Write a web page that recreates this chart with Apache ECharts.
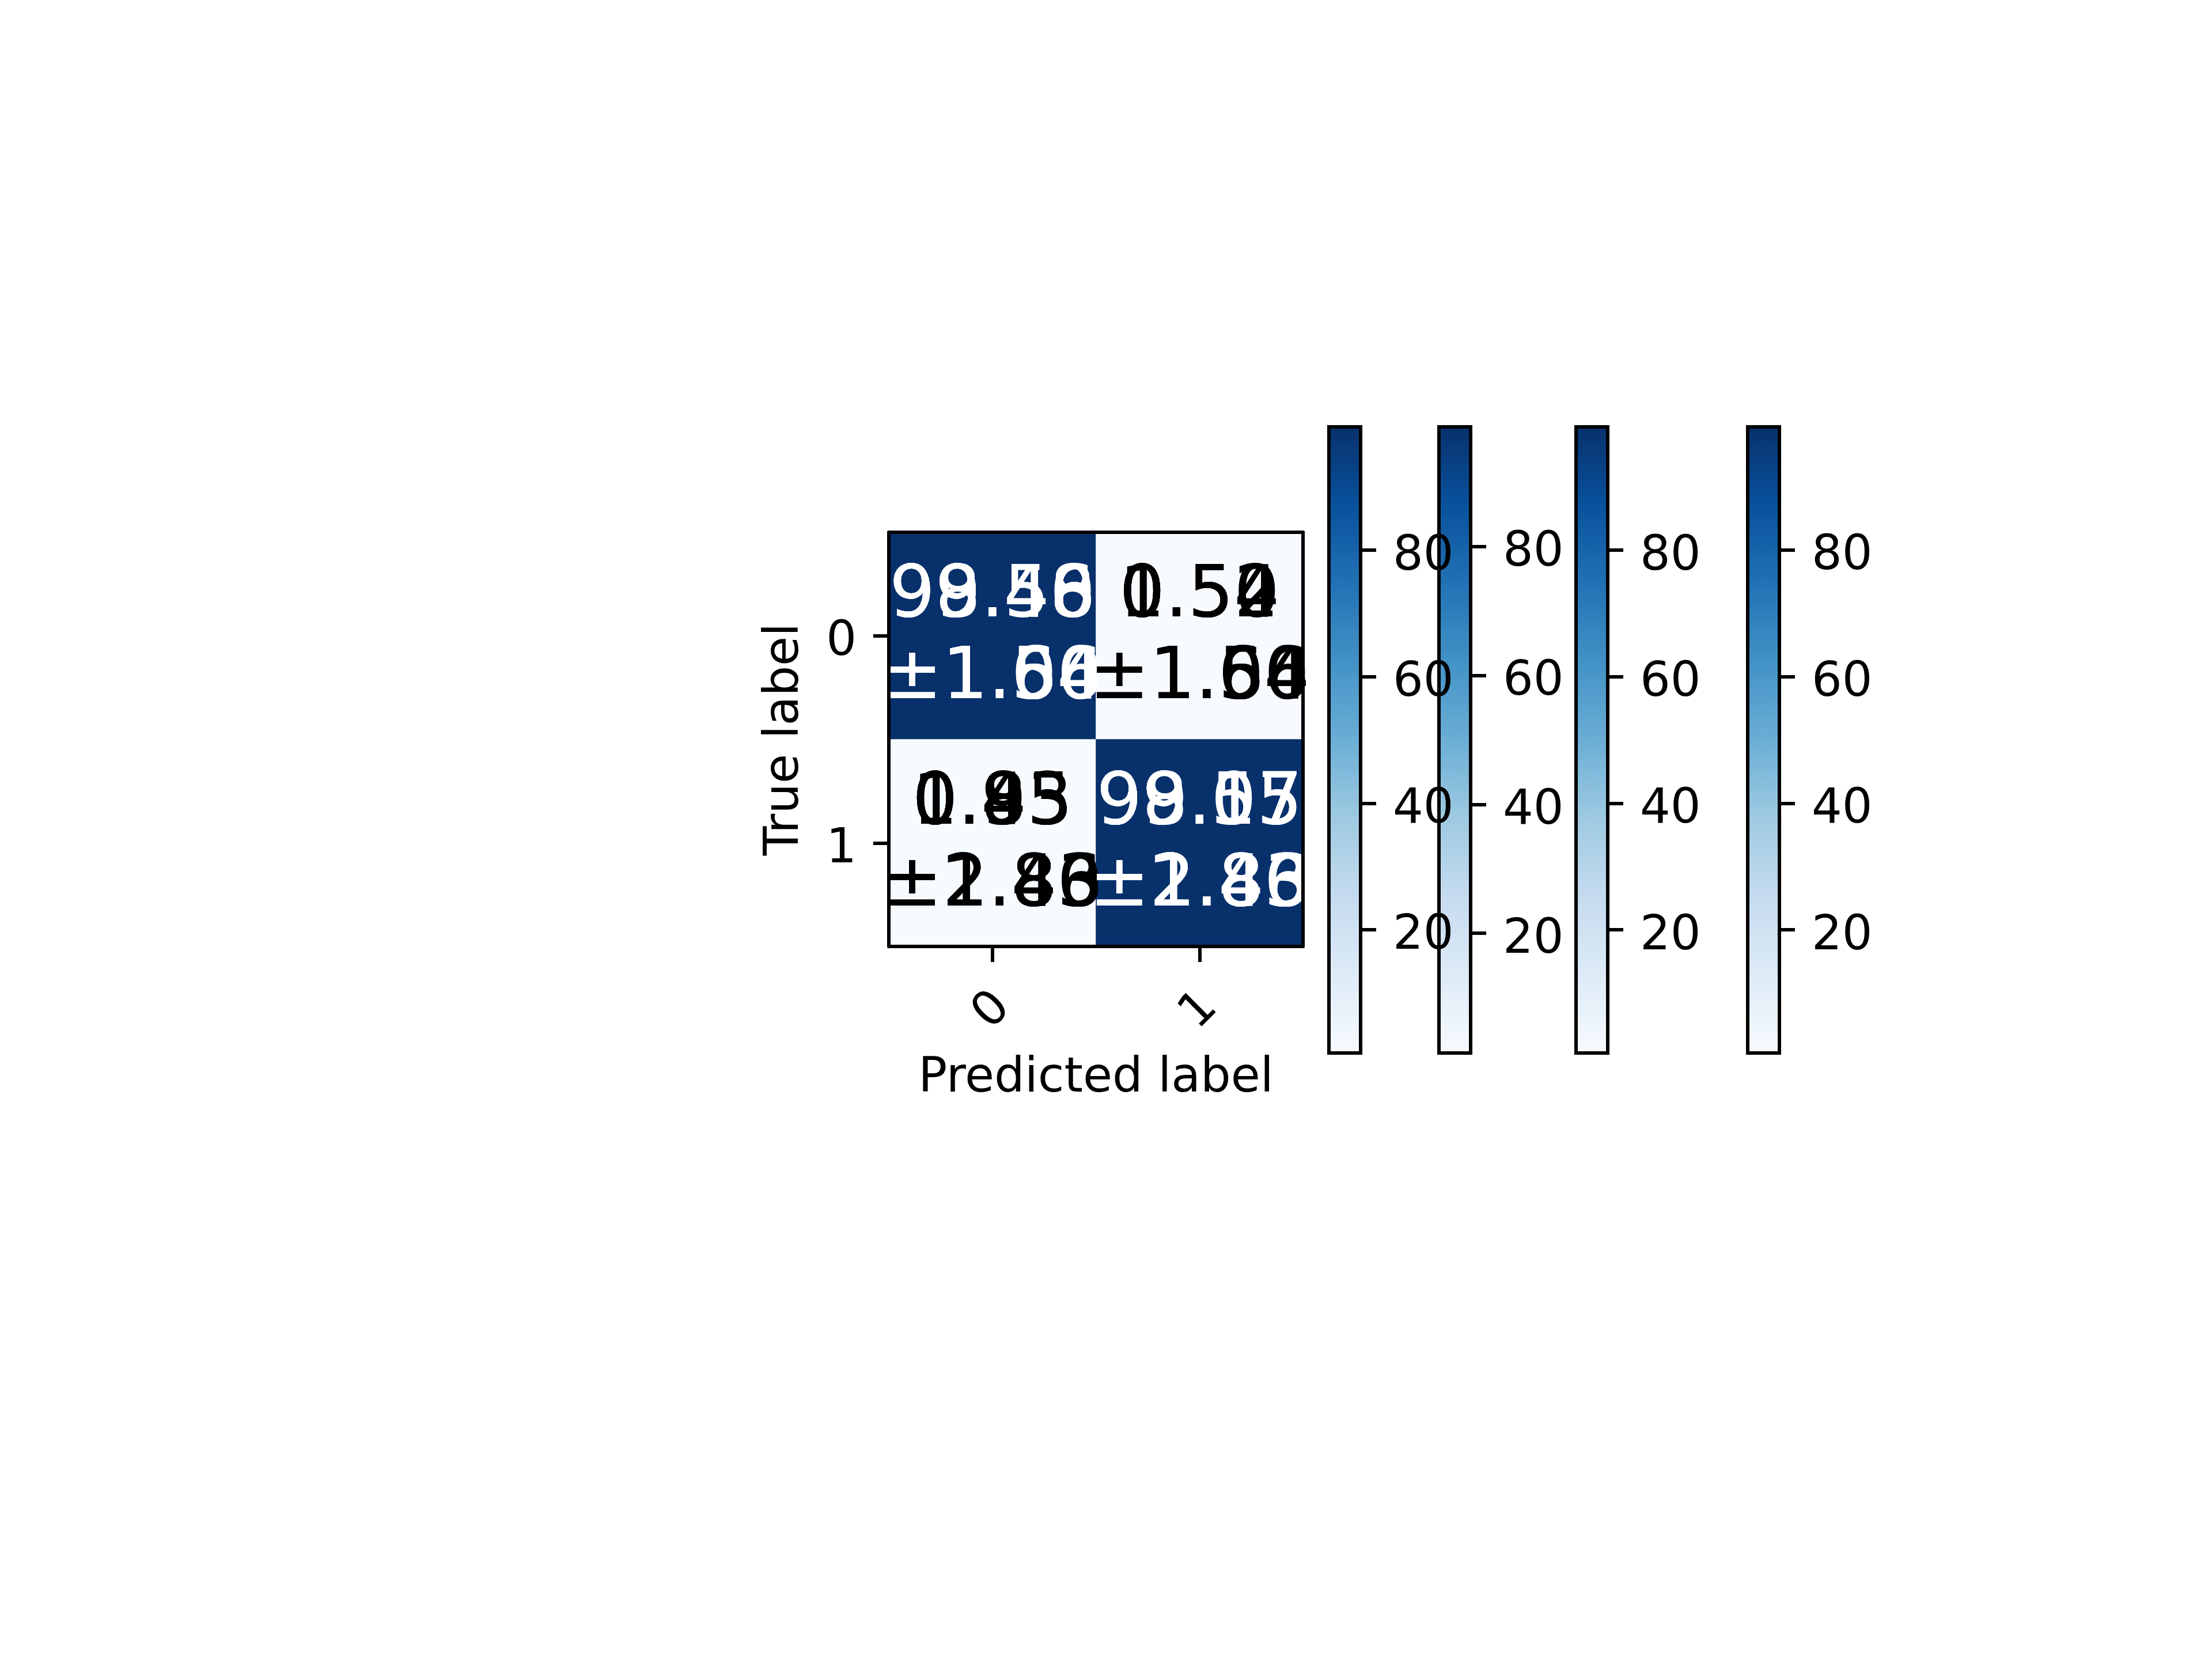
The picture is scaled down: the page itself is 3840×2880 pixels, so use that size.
<!DOCTYPE html>
<html><head><meta charset="utf-8">
<script src="https://cdn.jsdelivr.net/npm/echarts@6/dist/echarts.min.js"></script>
<style>html,body{margin:0;padding:0;background:#fff}#c{width:3840px;height:2880px}</style>
</head><body><div id="c"></div>
<script>
// ---- data ----
const classes = ['0', '1'];
const means1 = [[99.50, 0.50], [0.95, 99.05]];
const means2 = [[98.46, 1.54], [1.43, 98.57]];
const means3 = [[99.48, 0.52], [0.83, 99.17]];
const means4 = [[99.46, 0.54], [0.85, 99.15]];
const stds1 = [1.60, 2.80];
const stds2 = [1.54, 1.43];
const stds3 = [1.06, 2.46];
const stds4 = [1.64, 1.83];
const cbTicks = [20, 40, 60, 80];
const blues = ['#f7fbff', '#deebf7', '#c6dbef', '#9ecae1', '#6baed6', '#4292c6', '#2171b5', '#08519c', '#08306b'];

const matrices = [means1, means2, means3, means4];
const stdsAll = [stds1, stds2, stds3, stds4];

const FONT = 'DejaVu Sans';
const LW = 6;
const chart = echarts.init(document.getElementById('c'), null, {renderer: 'canvas'});

const hm = {left: 1543, top: 924, width: 719, height: 719};
const cbLefts = [2307, 2498, 2736, 3034];
const cb = {top: 741, width: 55, height: 1087};

const grids = [Object.assign({outerBoundsMode: 'none', containLabel: false}, hm)];
cbLefts.forEach(l => grids.push({left: l, top: cb.top, width: cb.width, height: cb.height, outerBoundsMode: 'none', containLabel: false}));

const xAxes = [], yAxes = [], series = [], visualMaps = [];
const tickStyle = {show: true, length: 27, lineStyle: {color: '#000', width: LW}};
const lblStyle = {color: '#000', fontSize: 83, fontFamily: FONT};

// heatmap axes (bottom + top frame)
xAxes.push({type: 'category', gridIndex: 0, data: classes, position: 'bottom', z: 10,
  axisLine: {show: true, lineStyle: {color: '#000', width: LW}},
  axisTick: Object.assign({alignWithLabel: true}, tickStyle),
  axisLabel: Object.assign({rotate: 45, margin: 112, align: 'center', verticalAlign: 'middle'}, lblStyle),
  splitLine: {show: false},
  name: 'Predicted label', nameLocation: 'middle', nameGap: 189,
  nameTextStyle: {color: '#000', fontSize: 83, fontFamily: FONT}});
xAxes.push({type: 'category', gridIndex: 0, data: classes, position: 'top', z: 10,
  axisLine: {show: true, onZero: false, lineStyle: {color: '#000', width: LW}},
  axisTick: {show: false}, axisLabel: {show: false}, splitLine: {show: false}});
yAxes.push({type: 'category', gridIndex: 0, data: classes, inverse: true, position: 'left', z: 10,
  axisLine: {show: true, onZero: false, lineStyle: {color: '#000', width: LW}},
  axisTick: Object.assign({alignWithLabel: true}, tickStyle),
  axisLabel: Object.assign({margin: 56, verticalAlign: 'top', lineHeight: 24}, lblStyle),
  splitLine: {show: false},
  name: 'True label', nameLocation: 'middle', nameGap: 138, nameRotate: 90,
  nameTextStyle: {color: '#000', fontSize: 83, fontFamily: FONT}});
yAxes.push({type: 'category', gridIndex: 0, data: classes, inverse: true, position: 'right', z: 10,
  axisLine: {show: true, onZero: false, lineStyle: {color: '#000', width: LW}},
  axisTick: {show: false}, axisLabel: {show: false}, splitLine: {show: false}});

// heatmap series (four overlaid matrices)
matrices.forEach((m, k) => {
  let vmin = Infinity, vmax = -Infinity;
  m.forEach(r => r.forEach(v => { vmin = Math.min(vmin, v); vmax = Math.max(vmax, v); }));
  const thresh = vmax / 2;
  const data = [];
  m.forEach((row, i) => row.forEach((v, j) => {
    data.push({value: [j, i, v],
      label: {color: v > thresh ? '#ffffff' : '#000000',
        formatter: v.toFixed(2) + '\n±' + stdsAll[k][i].toFixed(2)}});
  }));
  series.push({type: 'heatmap', xAxisIndex: 0, yAxisIndex: 0, data: data, z: 2,
    label: {show: true, fontSize: 125, fontFamily: FONT, lineHeight: 142, offset: [0, 5]},
    itemStyle: {borderWidth: 0}, emphasis: {disabled: true}});
  visualMaps.push({type: 'continuous', show: false, seriesIndex: k, dimension: 2,
    min: vmin, max: vmax, inRange: {color: blues}});
});

// colorbars
matrices.forEach((m, k) => {
  let vmin = Infinity, vmax = -Infinity;
  m.forEach(r => r.forEach(v => { vmin = Math.min(vmin, v); vmax = Math.max(vmax, v); }));
  const g = k + 1;
  const xi = xAxes.length, yi = yAxes.length;
  xAxes.push({type: 'category', gridIndex: g, data: [''], show: false});
  yAxes.push({type: 'value', gridIndex: g, min: vmin, max: vmax, position: 'right', z: 20,
    axisLine: {show: false},
    axisTick: Object.assign({customValues: cbTicks}, tickStyle),
    axisLabel: Object.assign({customValues: cbTicks, margin: 56, align: 'left', verticalAlign: 'top', lineHeight: 24}, lblStyle),
    splitLine: {show: false}});
  const stops = blues.map((c, i) => ({offset: i / (blues.length - 1), color: c}));
  series.push({type: 'custom', xAxisIndex: xi, yAxisIndex: yi, z: 5 + k,
    data: [[0, vmin, vmax]],
    renderItem: function (params, api) {
      const b = api.coord([0, api.value(1)]);
      const t = api.coord([0, api.value(2)]);
      const w = api.size([1, 0])[0];
      return {type: 'rect', shape: {x: b[0] - w / 2, y: t[1], width: w, height: b[1] - t[1]},
        style: {fill: new echarts.graphic.LinearGradient(0, 1, 0, 0, stops), stroke: '#000', lineWidth: LW}};
    }});
});

chart.setOption({
  backgroundColor: '#ffffff',
  animation: false,
  grid: grids,
  xAxis: xAxes,
  yAxis: yAxes,
  visualMap: visualMaps,
  series: series
});
</script></body></html>
